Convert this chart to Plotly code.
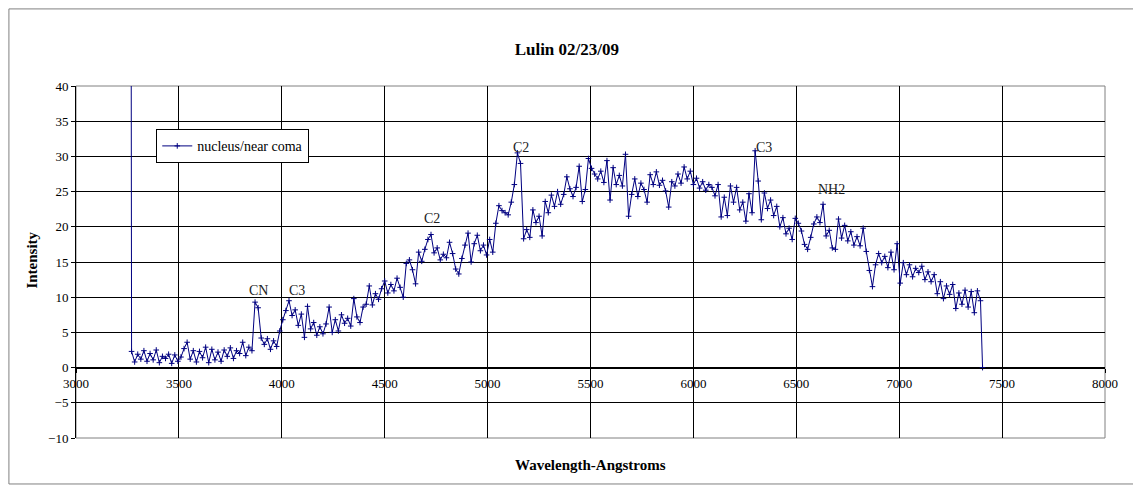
import plotly.graph_objects as go

# ---- data ----
wavelength = [
    3268,
    3270, 3285, 3300, 3315, 3330, 3345, 3360, 3375, 3390, 3405, 3420, 3435, 3450, 3465, 3480, 3495,
    3510, 3525, 3540, 3555, 3570, 3585, 3600, 3615, 3630, 3645,
    3660, 3675, 3690, 3705, 3720, 3735, 3750, 3765, 3780, 3795, 3810, 3825, 3840, 3855,
    3870, 3885, 3900, 3915, 3930, 3945, 3960, 3975, 3990,
    4005, 4020, 4035, 4050, 4065, 4080, 4095, 4110, 4125, 4140, 4155, 4170, 4185,
    4200, 4215, 4230, 4245, 4260, 4275, 4290, 4305, 4320, 4335, 4350, 4365, 4380, 4395,
    4410, 4425, 4440, 4455, 4470, 4485, 4500, 4515, 4530, 4545, 4560, 4575, 4590,
    4605, 4620, 4635, 4650, 4665, 4680, 4695, 4710, 4725, 4740, 4755, 4770, 4785,
    4800, 4815, 4830, 4845, 4860, 4875, 4890, 4905, 4920, 4935, 4950, 4965, 4980, 4995,
    5010, 5025, 5040, 5055, 5070, 5085, 5100, 5115, 5130, 5145, 5160, 5175, 5190,
    5205, 5220, 5235, 5250, 5265, 5280, 5295, 5310, 5325, 5340, 5355, 5370, 5385,
    5400, 5415, 5430, 5445, 5460, 5475, 5490, 5505, 5520, 5535, 5550, 5565, 5580, 5595,
    5610, 5625, 5640, 5655, 5670, 5685, 5700, 5715, 5730, 5745, 5760, 5775, 5790,
    5805, 5820, 5835, 5850, 5865, 5880, 5895, 5910, 5925, 5940, 5955, 5970, 5985,
    6000, 6015, 6030, 6045, 6060, 6075, 6090, 6105, 6120, 6135, 6150, 6165, 6180, 6195,
    6210, 6225, 6240, 6255, 6270, 6285, 6300, 6315, 6330, 6345, 6360, 6375, 6390,
    6405, 6420, 6435, 6450, 6465, 6480, 6495, 6510, 6525, 6540, 6555, 6570, 6585,
    6600, 6615, 6630, 6645, 6660, 6675, 6690, 6705, 6720, 6735, 6750, 6765, 6780, 6795,
    6810, 6825, 6840, 6855, 6870, 6885, 6900, 6915, 6930, 6945, 6960, 6975, 6990,
    7005, 7020, 7035, 7050, 7065, 7080, 7095, 7110, 7125, 7140, 7155, 7170, 7185,
    7200, 7215, 7230, 7245, 7260, 7275, 7290, 7305, 7320, 7335, 7350, 7365, 7380, 7395,
    7405,
]

intensity = [
    50.0,
    2.3, 0.8, 1.9, 1.2, 2.4, 0.9, 2.0, 1.1, 2.5, 0.7, 1.6, 1.3, 1.9, 0.6, 1.8, 0.9,
    1.5, 2.7, 3.6, 1.2, 2.4, 0.8, 2.3, 1.4, 2.9, 0.7,
    2.6, 1.1, 2.2, 0.9, 2.5, 1.6, 2.8, 1.3, 2.4, 2.0, 3.6, 1.7, 2.9, 2.4,
    9.3, 8.5, 4.2, 3.3, 4.1, 2.6, 3.8, 3.0, 5.2,
    6.8, 8.1, 9.5, 7.4, 8.2, 6.0, 7.6, 4.3, 8.7, 5.5, 6.4, 4.6, 5.8,
    4.8, 6.2, 8.6, 5.0, 6.8, 5.2, 7.5, 6.3, 7.0, 5.9, 9.8, 7.2, 6.4, 8.6,
    9.0, 11.6, 8.9, 10.5, 9.7, 11.2, 12.3, 10.6, 11.8, 10.9, 12.7, 11.4, 10.0,
    14.8, 15.3, 13.9, 11.9, 16.4, 15.1, 16.8, 18.2, 18.9, 16.3, 17.0, 15.3, 16.1,
    15.6, 17.8, 16.2, 14.0, 13.3, 15.5, 17.4, 19.1, 15.0, 17.6, 18.8, 16.6, 17.4, 16.0,
    18.2, 16.4, 20.5, 23.0, 22.3, 22.0, 21.7, 23.5, 26.0, 30.5, 29.0, 18.3, 19.6,
    18.5, 22.4, 20.6, 21.5, 18.7, 23.6, 22.0, 24.5, 22.9, 25.0, 23.2, 24.6, 27.1,
    25.4, 24.3, 25.6, 28.6, 23.6, 25.3, 29.7, 28.3, 27.5, 26.8, 27.9, 26.3, 29.4, 23.8,
    28.4, 26.0, 27.3, 25.8, 30.3, 21.5, 24.6, 26.8, 24.3, 26.2, 25.3, 23.5, 27.4,
    26.0, 27.8, 25.9, 26.6, 25.1, 22.8, 26.4, 25.8, 27.5, 26.2, 28.5, 26.8, 27.9,
    26.0, 26.9, 25.5, 26.4, 25.2, 26.0, 25.6, 24.4, 26.0, 21.4, 24.2, 21.6, 25.8, 23.5,
    25.6, 22.4, 23.5, 20.8, 24.7, 22.0, 30.8, 26.5, 21.0, 24.8, 22.6, 23.8, 21.6,
    22.9, 20.0, 21.3, 19.0, 19.8, 18.2, 21.2, 20.5, 19.4, 17.5, 16.8, 18.5, 20.4,
    21.4, 20.6, 23.2, 18.7, 19.5, 17.0, 16.8, 21.1, 18.4, 20.2, 18.0, 19.3, 17.4, 18.6,
    17.3, 19.8, 16.5, 13.8, 11.5, 14.6, 16.2, 14.9, 15.8, 14.2, 16.4, 13.9, 17.6,
    12.0, 14.9, 13.2, 14.6, 12.9, 14.1, 13.5, 14.4, 12.5, 13.6, 12.2, 13.2, 10.5,
    12.2, 9.8, 11.6, 10.4, 11.8, 8.4, 10.6, 9.0, 11.0, 8.6, 10.8, 7.8, 10.9, 9.5,
    0.0,
]

label_text = ["CN", "C3", "C2", "C2", "C3", "NH2"]
label_x = [3886, 4075, 4731, 5164, 6344, 6669]
label_y = [11.0, 10.9, 21.2, 31.3, 31.3, 25.3]

x_ticks = [3000, 3500, 4000, 4500, 5000, 5500, 6000, 6500, 7000, 7500, 8000]
y_ticks = [-10, -5, 0, 5, 10, 15, 20, 25, 30, 35, 40]

SERIF = "Liberation Serif, Times New Roman, serif"
NAVY = "#000080"

fig = go.Figure()
fig.add_trace(go.Scatter(
    x=wavelength, y=intensity, mode="lines+markers",
    name="nucleus/near coma",
    line=dict(color=NAVY, width=1),
    marker=dict(symbol="cross-thin-open", size=4, color=NAVY,
                line=dict(color=NAVY, width=1)),
))

for t, lx, ly in zip(label_text, label_x, label_y):
    fig.add_annotation(x=lx, y=ly, text=t, showarrow=False,
                       font=dict(family=SERIF, size=14, color="#222222"))

# outer chart border and plot-area border
fig.add_shape(type="rect", xref="paper", yref="paper",
              x0=-0.0652, x1=1.0311, y0=-0.1306, y1=1.219,
              line=dict(color="#808080", width=1), layer="below")
fig.add_shape(type="rect", xref="paper", yref="paper",
              x0=0, x1=1, y0=0, y1=1,
              line=dict(color="#808080", width=1), layer="below")

fig.update_layout(
    width=1141, height=485, autosize=False,
    margin=dict(l=68, r=44, t=78, b=55),
    paper_bgcolor="white", plot_bgcolor="white",
    font=dict(family=SERIF, size=13, color="black"),
    title=dict(text="<b>Lulin 02/23/09</b>", x=0.477, xref="paper", xanchor="center",
               y=0.9155, yanchor="middle",
               font=dict(family=SERIF, size=17, color="black")),
    showlegend=True,
    legend=dict(x=0.078, y=0.877, xanchor="left", yanchor="top",
                bgcolor="white", bordercolor="black", borderwidth=1,
                font=dict(family=SERIF, size=14, color="black"),
                itemwidth=30, tracegroupgap=0),
    xaxis=dict(range=[3000, 8000], tickvals=x_ticks,
               ticktext=[str(v) for v in x_ticks],
               showgrid=True, gridcolor="black", gridwidth=1,
               anchor="free", position=0.2,
               showline=True, linecolor="black", linewidth=1,
               ticks="outside", ticklen=4, tickcolor="black",
               zeroline=False,
               tickfont=dict(family=SERIF, size=13, color="black")),
    yaxis=dict(range=[-10, 40], tickvals=y_ticks,
               showgrid=True, gridcolor="black", gridwidth=1,
               showline=True, linecolor="black", linewidth=1,
               ticks="outside", ticklen=4, tickcolor="black",
               zeroline=True, zerolinecolor="black", zerolinewidth=1,
               tickfont=dict(family=SERIF, size=13, color="black")),
)

fig.add_annotation(text="<b>Wavelength-Angstroms</b>", xref="paper", yref="paper",
                   x=0.5, y=-0.0766, showarrow=False, yanchor="middle",
                   font=dict(family=SERIF, size=15, color="black"))
fig.add_annotation(text="<b>Intensity</b>", xref="paper", yref="paper",
                   x=-0.0424, y=0.505, showarrow=False, textangle=-90,
                   xanchor="center", yanchor="middle",
                   font=dict(family=SERIF, size=15, color="black"))

fig.write_html("out.html")
